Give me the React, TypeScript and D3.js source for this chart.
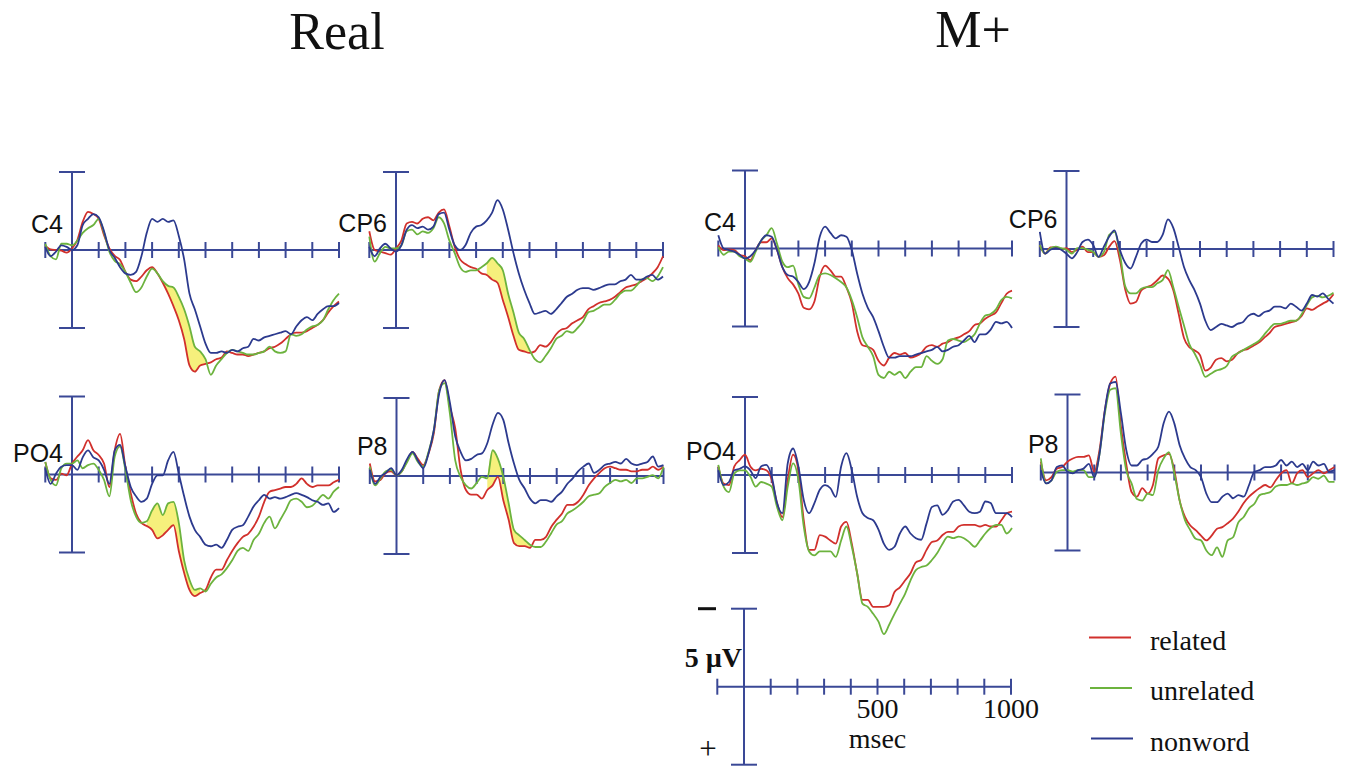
import React from "react";
import * as d3 from "d3";

// time grid (ms) the curves were sampled on, and the axis ticks
const times = d3.range(-100, 1001, 20);
const tickTimes = [-100, 100, 200, 300, 400, 500, 600, 700, 800, 900, 1000];
const scaleLabels = [500, 1000];

const conditions = ["related", "unrelated", "nonword"];
const conditionColors = ["#d1302c", "#6cb33e", "#2c3a8e"];

// ---- Real words, amplitudes in µV (negative plotted up) ----
const realC4Related = [-0.26, -0.04, 0, 0.04, 0.17, -0.1, -0.64, -1.8, -2.45, -2.3, -2.0, -0.95, -0.1, 0.38, 0.64, 1.4, 1.9, 2.0, 1.7, 1.3, 1.1, 1.5, 2.1, 2.8, 3.6, 4.5, 5.7, 7.4, 7.8, 7.4, 7.3, 7.2, 7.0, 6.9, 6.5, 6.6, 6.7, 6.7, 6.8, 6.7, 6.6, 6.5, 6.3, 6.2, 6.0, 5.7, 5.4, 5.3, 5.3, 5.2, 5.0, 4.8, 4.5, 4.0, 3.6, 3.3];
const realC4Unrelated = [-0.4, 0.4, 0.6, -0.4, -0.4, -0.3, -0.6, -1.1, -1.4, -1.6, -2.0, -1.1, 0.1, 0.7, 0.9, 1.4, 2.1, 2.7, 2.4, 1.7, 1.2, 1.5, 2.0, 2.3, 2.4, 3.0, 3.8, 4.9, 6.2, 6.5, 7.0, 8.0, 7.4, 7.0, 6.6, 6.4, 6.5, 6.6, 6.7, 6.7, 6.6, 6.5, 6.2, 6.5, 6.6, 6.5, 5.4, 5.5, 5.4, 5.1, 4.9, 4.8, 4.5, 3.8, 3.2, 2.8];
const realC4Nonword = [-0.2, 0.4, 0.1, -0.3, -0.2, 0, -0.3, -1.6, -2.0, -2.3, -2.1, -1.2, 0, 0.5, 1.1, 1.5, 1.6, 1.4, 0.4, -1.1, -2.0, -1.8, -2.0, -1.8, -1.9, -0.9, 0.6, 2.8, 3.8, 4.9, 6.0, 6.6, 6.6, 6.5, 6.6, 6.4, 6.5, 6.3, 6.2, 5.7, 5.8, 5.6, 5.5, 5.4, 5.3, 5.2, 5.4, 4.9, 4.5, 4.3, 4.5, 4.1, 3.8, 3.6, 3.6, 3.4];

const realCP6Related = [-1.2, 0, 0.1, 0.2, 0.3, -0.1, -0.6, -1.7, -1.8, -1.7, -2.0, -2.1, -1.9, -2.4, -2.6, -1.5, -0.2, 0.6, 0.9, 1.1, 1.2, 1.5, 1.6, 1.9, 2.1, 3.2, 4.3, 5.5, 6.4, 6.5, 6.6, 6.5, 6.1, 6.2, 5.9, 5.4, 5.1, 5.0, 4.7, 4.5, 4.3, 3.8, 3.6, 3.4, 3.3, 3.2, 3.0, 2.7, 2.4, 2.3, 2.2, 2.0, 1.8, 1.5, 1.1, 0.4];
const realCP6Unrelated = [-0.85, 0.75, 0.2, -0.2, -0.1, -0.1, -0.3, -1.2, -1.3, -1.0, -1.2, -1.1, -1.4, -2.1, -1.7, -0.6, 0.2, 1.1, 1.4, 1.3, 1.3, 1.1, 0.85, 0.5, 0.85, 1.3, 2.8, 4.0, 5.3, 5.7, 6.4, 7.0, 7.2, 6.8, 6.3, 5.7, 5.5, 5.2, 5.3, 5.0, 4.6, 4.0, 3.9, 3.7, 3.5, 3.5, 3.2, 2.8, 2.6, 2.6, 2.3, 1.9, 1.8, 2.0, 1.7, 1.1];
const realCP6Nonword = [-0.2, 0.4, -0.1, -0.4, -0.1, 0.1, -0.3, -1.3, -1.6, -1.4, -1.5, -1.3, -1.5, -2.3, -2.4, -1.3, -0.3, 0, -0.3, -1.1, -1.5, -1.6, -1.9, -2.4, -3.2, -2.6, -1.3, 0.2, 1.5, 2.55, 3.4, 4.1, 4.0, 3.9, 4.1, 3.8, 3.4, 3.0, 2.8, 2.55, 2.45, 2.45, 2.55, 2.45, 2.3, 2.2, 2.2, 2.0, 1.9, 1.6, 1.9, 1.9, 1.7, 1.6, 1.9, 1.7];

const realPO4Related = [-0.8, 0.25, 0.35, -0.05, 0.05, -0.7, -1.15, -1.55, -2.2, -1.55, -1.25, -0.7, 0.8, -1.55, -2.6, -0.5, 1.2, 2.5, 3.1, 3.3, 3.55, 4.1, 3.9, 3.55, 3.25, 4.9, 6.3, 7.4, 7.8, 7.6, 7.4, 6.6, 6.1, 6.1, 5.5, 4.9, 4.4, 4.0, 3.8, 3.35, 2.7, 1.75, 1.1, 1.0, 0.9, 0.8, 0.8, 0.6, 0.25, 0.6, 0.8, 0.7, 0.7, 0.7, 0.5, 0.35];
const realPO4Unrelated = [-0.8, 0.35, 0.7, -0.4, -0.7, -0.7, -0.9, -0.4, -0.6, -0.7, -0.3, 0.35, 1.4, -1.15, -1.8, -0.3, 1.65, 2.7, 3.1, 3.0, 2.3, 1.85, 2.6, 1.85, 1.75, 3.1, 5.5, 6.75, 7.4, 7.3, 7.5, 7.0, 6.6, 6.4, 6.0, 5.5, 4.9, 4.7, 4.9, 4.2, 3.8, 3.1, 2.7, 3.45, 2.9, 2.3, 1.65, 1.55, 1.75, 2.1, 2.0, 1.65, 1.3, 1.55, 1.1, 0.8];
const realPO4Nonword = [-0.4, 0.6, -0.05, -0.5, -0.6, -0.6, -0.3, -1.1, -1.55, -1.1, -0.9, -0.3, 0.6, -1.55, -1.9, -0.5, 0.8, 1.4, 1.75, 1.55, 0.6, 0.05, 0.05, -0.9, -1.45, -0.05, 1.4, 2.7, 3.55, 4.0, 4.5, 4.6, 4.5, 4.7, 4.2, 3.55, 3.35, 3.25, 2.7, 2.05, 1.65, 1.3, 1.55, 1.45, 1.55, 1.45, 1.3, 1.2, 1.3, 1.45, 1.65, 1.75, 1.95, 1.85, 2.4, 2.15];

const realP8Related = [-0.8, 0.35, 0.25, -0.2, -0.3, -0.05, -0.3, -1.0, -1.55, -1.1, -0.7, -1.45, -2.75, -5.5, -6.15, -4.45, -3.05, -0.4, 0.9, 1.2, 1.2, 1.45, 0.9, 0.6, 0.05, 1.55, 2.8, 4.3, 4.5, 4.5, 4.6, 4.1, 4.1, 3.9, 3.25, 2.8, 2.4, 1.85, 1.85, 1.65, 1.2, 0.6, 0.15, -0.2, -0.5, -0.6, -0.5, -0.4, -0.4, -0.3, -0.3, -0.4, -0.4, -0.6, -0.4, -0.6];
const realP8Unrelated = [-0.6, 0.6, 0.15, -0.3, -0.4, -0.05, -0.3, -0.9, -1.45, -0.9, -0.6, -1.55, -2.95, -5.5, -5.95, -4.0, -1.0, 0.05, 0.6, 0.8, 0.45, 0.05, 0.15, -1.65, -1.1, 0.05, 1.75, 3.45, 3.8, 4.1, 4.4, 4.55, 4.55, 4.2, 3.65, 3.1, 2.9, 2.4, 2.2, 1.95, 1.65, 1.3, 1.2, 1.1, 0.7, 0.45, 0.25, 0.35, 0.25, 0.45, 0.15, 0.15, 0.05, -0.05, 0.15, -0.6];
const realP8Nonword = [-0.4, 0.5, 0.05, -0.2, -0.5, -0.05, -0.4, -1.1, -1.55, -1.0, -0.5, -1.45, -2.95, -5.3, -6.15, -4.7, -2.55, -1.55, -1.0, -1.1, -1.35, -1.45, -2.1, -3.3, -4.05, -3.6, -2.1, -0.8, 0.25, 0.8, 1.45, 1.75, 1.55, 1.55, 1.65, 1.3, 1.0, 0.5, 0.15, -0.3, -0.6, -0.8, -0.2, -0.4, -0.7, -0.8, -0.9, -0.8, -1.1, -0.8, -0.7, -0.8, -0.9, -1.25, -0.6, -0.7];

// ---- M+ pseudowords ----
const mC4Related = [-0.2, 0.1, 0.06, 0.1, 0.4, 0.5, 0.75, 0.1, -0.4, -0.4, -0.65, 0.1, 1.2, 1.9, 2.3, 2.9, 3.8, 3.9, 3.4, 1.8, 1.1, 1.4, 1.8, 1.8, 2.5, 3.5, 5.3, 6.2, 6.3, 6.5, 7.2, 7.5, 7.0, 6.7, 6.8, 6.7, 7.0, 6.9, 6.7, 6.3, 6.2, 6.3, 6.1, 6.0, 5.8, 5.7, 5.5, 5.3, 4.9, 4.8, 4.5, 4.3, 4.1, 3.5, 2.9, 2.7];
const mC4Unrelated = [-0.1, 0.4, 0.2, 0.2, 0.5, 0.65, 0.85, 0.2, -0.5, -0.85, -1.3, -0.3, 0.85, 1.2, 1.1, 2.3, 3.1, 3.2, 2.5, 1.7, 1.6, 1.7, 1.9, 2.15, 2.5, 3.3, 4.4, 5.7, 6.3, 6.9, 8.1, 8.3, 7.9, 8.1, 7.9, 8.3, 7.9, 7.6, 7.6, 6.9, 7.2, 7.4, 7.1, 5.9, 5.8, 5.9, 6.0, 5.8, 5.5, 4.8, 4.3, 4.2, 3.9, 3.3, 3.1, 3.2];
const mC4Nonword = [-0.85, 0, 0.1, 0.2, 0.4, 0.65, 0.5, 0.1, -0.5, -0.85, -0.75, 0.1, 1.2, 1.7, 1.8, 2.15, 2.6, 2.15, 0.95, -0.75, -1.4, -1.0, -0.65, -0.85, -0.75, 0.1, 1.6, 2.9, 3.8, 4.4, 5.3, 6.3, 7.0, 7.0, 6.9, 6.9, 6.9, 6.8, 6.7, 6.6, 6.5, 6.3, 6.6, 6.5, 6.3, 6.2, 5.9, 5.6, 6.0, 5.5, 5.5, 5.2, 4.7, 4.8, 4.7, 5.1];

const mCP6Related = [-0.25, 0.3, -0.1, -0.1, 0, -0.05, 0.2, 0.05, -0.15, 0.2, 0.2, 0.5, 0.4, -0.15, -0.5, 0.7, 2.6, 3.5, 3.4, 2.65, 2.45, 2.3, 2.0, 1.7, 1.9, 2.65, 4.15, 5.7, 6.3, 6.5, 6.8, 7.8, 7.6, 7.1, 7.0, 7.2, 7.1, 6.7, 6.5, 6.4, 6.2, 6.0, 5.7, 5.4, 5.0, 4.9, 4.8, 4.7, 4.6, 4.3, 3.8, 3.9, 3.7, 3.5, 3.3, 2.9];
const mCP6Unrelated = [-0.25, 0.3, -0.05, -0.15, -0.05, 0.05, 0.3, -0.05, -0.05, 0.05, 0.2, 0.5, 0.2, -0.9, -1.1, 0.3, 2.4, 2.85, 2.85, 2.55, 2.45, 2.45, 2.2, 2.0, 1.35, 2.45, 3.7, 4.9, 6.1, 6.7, 7.4, 8.2, 8.0, 7.8, 7.7, 7.5, 6.9, 6.7, 6.5, 6.3, 6.1, 5.9, 5.5, 5.1, 4.8, 4.8, 4.7, 4.6, 4.6, 4.2, 3.6, 3.1, 3.0, 3.1, 3.0, 2.8];
const mCP6Nonword = [-1.1, 0.3, 0.05, -0.05, 0.05, 0.3, 0.6, 0.2, -0.45, -0.6, -0.25, 0.5, -0.15, -0.8, -1.2, 0.05, 0.9, 1.25, 0.5, -0.35, -0.6, -0.45, -0.45, -0.9, -1.9, -1.35, -0.15, 1.15, 2.0, 2.65, 3.5, 4.6, 5.2, 5.0, 4.8, 4.9, 5.0, 4.8, 4.7, 4.3, 4.15, 4.3, 4.05, 3.95, 3.7, 3.7, 3.8, 3.5, 3.7, 3.95, 3.5, 2.95, 3.05, 2.85, 3.2, 3.5];

const mPO4Related = [-0.55, 0.55, 0.65, -0.55, -0.95, -1.3, -0.55, -0.3, -0.4, -0.3, 0.3, 1.8, 2.7, 0.3, -1.3, -0.3, 2.9, 4.8, 4.8, 3.85, 3.95, 4.2, 4.4, 3.3, 3.0, 4.4, 6.3, 8.0, 8.0, 8.45, 8.45, 8.45, 8.35, 7.5, 7.2, 6.75, 6.3, 5.6, 5.45, 4.8, 4.3, 4.2, 3.85, 3.65, 3.65, 3.3, 3.2, 3.2, 3.2, 3.3, 3.2, 3.3, 3.3, 2.9, 2.45, 2.35];
const mPO4Unrelated = [-0.65, 0.75, 1.1, -0.1, -0.3, -0.3, 0.1, 0.75, 0.45, 0.55, 0.75, 2.05, 2.9, 0.75, -0.75, 0.3, 3.3, 4.9, 5.15, 4.9, 4.9, 4.9, 5.25, 4.2, 3.3, 4.6, 6.3, 8.25, 8.45, 8.9, 9.4, 10.2, 9.6, 8.9, 8.25, 7.6, 6.75, 6.1, 5.9, 5.8, 5.45, 5.0, 4.4, 3.95, 4.05, 3.95, 4.05, 4.3, 4.6, 4.2, 3.75, 3.4, 3.2, 3.2, 3.75, 3.4];
const mPO4Nonword = [-0.3, 0.65, 0.45, -0.3, -0.4, -0.55, -0.3, 0.2, -0.55, -0.65, 0.1, 1.8, 2.45, -0.75, -1.7, -0.55, 1.6, 2.45, 1.8, 0.95, 0.65, 0.85, 1.4, -0.55, -1.4, -0.3, 1.4, 2.45, 2.75, 2.9, 3.5, 4.4, 4.8, 4.6, 3.75, 3.3, 3.75, 4.05, 4.15, 3.1, 2.05, 1.95, 2.55, 2.25, 1.7, 1.6, 1.95, 2.35, 2.45, 2.35, 1.7, 1.8, 2.45, 2.45, 2.45, 2.7];

const mP8Related = [-0.7, 0.5, 0.3, -0.25, -0.35, -0.7, -0.9, -1.0, -1.0, -1.1, -0.05, -1.45, -4.0, -5.7, -6.15, -2.95, -0.55, 1.25, 1.55, 1.0, 1.35, 0.8, -0.9, -1.1, -1.2, -0.15, 1.8, 2.85, 3.4, 3.7, 4.05, 4.35, 4.05, 3.6, 3.5, 3.25, 2.95, 2.5, 1.95, 1.55, 1.25, 1.0, 0.8, 0.95, 0.5, 0.05, -0.15, 0.7, 0.05, -0.15, 0.3, 0.05, -0.15, 0.05, -0.15, -0.35];
const mP8Unrelated = [-0.9, 0.7, 0.5, -0.05, -0.15, -0.15, -0.05, -0.15, -0.15, 0.3, 0.3, -1.2, -3.8, -5.3, -5.4, -2.5, -0.15, 0.7, 1.7, 1.8, 1.35, 1.45, -0.15, -0.9, -1.3, 0.05, 1.8, 3.05, 3.7, 4.25, 4.35, 5.0, 5.3, 4.8, 5.4, 4.35, 4.15, 3.2, 2.85, 2.3, 2.0, 1.45, 1.35, 1.25, 0.9, 0.8, 0.8, 0.7, 0.8, 0.7, 0.6, 0.3, 0.4, 0.2, 0.6, 0.6];
const mP8Nonword = [-0.15, 0.7, 0.5, -0.35, -0.45, -0.05, 0.05, -0.15, -0.25, -0.55, 0.3, -1.2, -4.0, -5.7, -5.8, -3.8, -1.45, -0.45, -0.45, -0.8, -0.9, -1.2, -1.65, -3.15, -3.9, -3.15, -1.75, -0.9, -0.35, -0.15, 0.3, 1.35, 1.9, 1.9, 1.55, 1.35, 1.65, 1.45, 1.55, 0.8, -0.05, -0.15, -0.35, -0.35, -0.45, -0.8, -0.45, -0.7, -0.35, -0.55, -0.15, -0.7, -0.45, -0.55, -0.05, -0.15];

// panels: electrode, curves (related, unrelated, nonword), shaded related/unrelated window (ms)
const panels = [
  { title: "Real", electrode: "C4", series: [realC4Related, realC4Unrelated, realC4Nonword], shade: [320, 500] },
  { title: "Real", electrode: "CP6", series: [realCP6Related, realCP6Unrelated, realCP6Nonword], shade: [340, 500] },
  { title: "Real", electrode: "PO4", series: [realPO4Related, realPO4Unrelated, realPO4Nonword], shade: [280, 480] },
  { title: "Real", electrode: "P8", series: [realP8Related, realP8Unrelated, realP8Nonword], shade: [340, 500] },
  { title: "M+", electrode: "C4", series: [mC4Related, mC4Unrelated, mC4Nonword], shade: null },
  { title: "M+", electrode: "CP6", series: [mCP6Related, mCP6Unrelated, mCP6Nonword], shade: null },
  { title: "M+", electrode: "PO4", series: [mPO4Related, mPO4Unrelated, mPO4Nonword], shade: null },
  { title: "M+", electrode: "P8", series: [mP8Related, mP8Unrelated, mP8Nonword], shade: null },
];

// where each panel's origin (0 ms, 0 µV) sits on the page
const layout = [
  { x0: 72, y0: 250, dy: -17 },
  { x0: 396, y0: 250, dy: -18 },
  { x0: 72, y0: 474.5, dy: -13 },
  { x0: 396.5, y0: 476, dy: -21 },
  { x0: 745, y0: 248.5, dy: -18 },
  { x0: 1066.5, y0: 249, dy: -21 },
  { x0: 745, y0: 475, dy: -15 },
  { x0: 1067.5, y0: 472.5, dy: -20 },
];
const titles = [
  { text: "Real", x: 337, y: 49 },
  { text: "M+", x: 973, y: 47 },
];

const AXIS = "#3a4896";
const PX_PER_MS = 0.267;
const HALF_H = 78;
const SERIF = "'Liberation Serif', 'Times New Roman', serif";
const SANS = "'Liberation Sans', Arial, sans-serif";

const makeScales = (x0: number, y0: number) => {
  const x = d3
    .scaleLinear()
    .domain([-100, 1000])
    .range([x0 - 100 * PX_PER_MS, x0 + 1000 * PX_PER_MS]);
  const y = d3.scaleLinear().domain([-5, 5]).range([y0 - HALF_H, y0 + HALF_H]);
  return { x, y };
};

const Axes = ({ x, y }: { x: d3.ScaleLinear<number, number>; y: d3.ScaleLinear<number, number> }) => {
  const x0 = x(0);
  const y0 = y(0);
  return (
    <g stroke={AXIS} strokeWidth={2} fill="none">
      <line x1={x(-100)} x2={x(1000)} y1={y0} y2={y0} />
      {tickTimes.map((t) => (
        <line key={t} x1={x(t)} x2={x(t)} y1={y0 - 8} y2={y0 + 8} />
      ))}
      <line x1={x0} x2={x0} y1={y(-5)} y2={y(5)} />
      <line x1={x0 - 13} x2={x0 + 13} y1={y(-5)} y2={y(-5)} />
      <line x1={x0 - 13} x2={x0 + 13} y1={y(5)} y2={y(5)} />
    </g>
  );
};

const Panel = ({ idx }: { idx: number }) => {
  const p = panels[idx];
  const { x0, y0, dy } = layout[idx];
  const { x, y } = makeScales(x0, y0);
  const line = d3
    .line<number>()
    .x((_, i) => x(times[i]))
    .y((d) => y(d))
    .curve(d3.curveMonotoneX);

  let shadePath: string | null = null;
  if (p.shade) {
    const [a, b] = p.shade;
    const idxs = times.map((t, i) => i).filter((i) => times[i] >= a && times[i] <= b);
    const area = d3
      .area<number>()
      .x((i) => x(times[i]))
      .y0((i) => y(p.series[0][i]))
      .y1((i) => y(p.series[1][i]))
      .curve(d3.curveMonotoneX);
    shadePath = area(idxs);
  }

  return (
    <g>
      {shadePath && <path d={shadePath} fill="#f6f07c" stroke="none" />}
      <Axes x={x} y={y} />
      {p.series.map((s, i) => (
        <path
          key={conditions[i]}
          d={line(s) || ""}
          fill="none"
          stroke={conditionColors[i]}
          strokeWidth={1.8}
          strokeLinejoin="round"
        />
      ))}
      <text
        x={x0 - 9}
        y={y0 + dy}
        textAnchor="end"
        fontFamily={SANS}
        fontSize={25}
        fill="#111"
      >
        {p.electrode}
      </text>
    </g>
  );
};

const ScaleBar = () => {
  const { x, y } = makeScales(744, 686.7);
  return (
    <g>
      <Axes x={x} y={y} />
      {scaleLabels.map((v) => (
        <text
          key={v}
          x={x(v)}
          y={718}
          textAnchor="middle"
          fontFamily={SERIF}
          fontSize={28}
          fill="#111"
        >
          {v}
        </text>
      ))}
      <text x={x(500)} y={748} textAnchor="middle" fontFamily={SERIF} fontSize={28} fill="#111">
        msec
      </text>
      <text x={742} y={667} textAnchor="end" fontFamily={SERIF} fontSize={28} fontWeight="bold" fill="#111">
        5 µV
      </text>
      <line x1={698} x2={716} y1={y(-5)} y2={y(-5)} stroke="#111" strokeWidth={3} />
      <text x={708} y={759} textAnchor="middle" fontFamily={SERIF} fontSize={31} fill="#111">
        +
      </text>
    </g>
  );
};

const Legend = () => {
  const rows = d3.scaleLinear().domain([0, 2]).range([637.5, 738.5]);
  return (
    <g>
      {conditions.map((c, i) => (
        <g key={c}>
          <line
            x1={1089 + i}
            x2={1131 + i}
            y1={rows(i)}
            y2={rows(i)}
            stroke={conditionColors[i]}
            strokeWidth={2}
          />
          <text x={1150} y={rows(i) + 12} fontFamily={SERIF} fontSize={28} fill="#111">
            {c}
          </text>
        </g>
      ))}
    </g>
  );
};

export default function App() {
  return (
    <svg
      width={1347}
      height={766}
      style={{ position: "absolute", left: 0, top: 0, background: "#fff" }}
    >
      {titles.map((t) => (
        <text key={t.text} x={t.x} y={t.y} textAnchor="middle" fontFamily={SERIF} fontSize={52} fill="#111">
          {t.text}
        </text>
      ))}
      {panels.map((_, i) => (
        <Panel key={i} idx={i} />
      ))}
      <ScaleBar />
      <Legend />
    </svg>
  );
}
